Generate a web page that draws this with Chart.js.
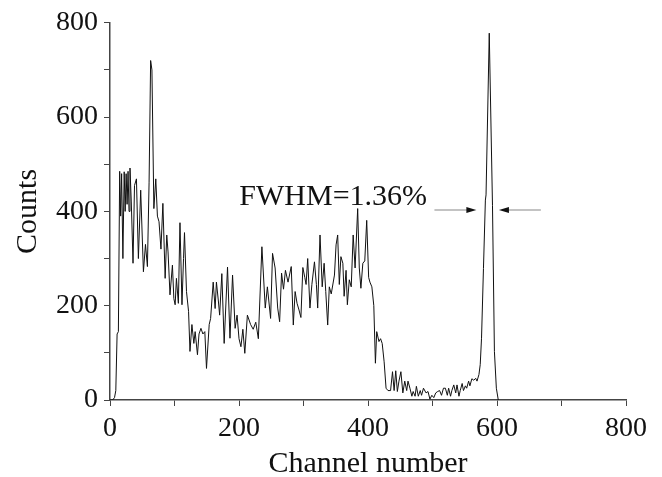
<!DOCTYPE html>
<html>
<head>
<meta charset="utf-8">
<script src="https://cdn.jsdelivr.net/npm/chart.js@4"></script>
<style>
  html, body { margin: 0; padding: 0; background: #fff; }
  #wrap { width: 662px; height: 477px; }
</style>
</head>
<body>
<div id="wrap"><canvas id="spectrum"></canvas></div>
<script>
// spectrum (channel, counts)
const channels = [0, 4, 7, 9, 11, 13, 15, 16.5, 18, 20, 22, 23.5, 25, 26.5, 28, 29.5, 31, 33, 35.7, 38,
  41, 44, 47.6, 51.8, 55, 58, 60.6, 63, 65, 68, 71, 73.5, 76, 79, 82, 85.5, 88, 90, 93, 96.8,
  99, 101, 103, 106, 108.5, 111.6, 114, 115.5, 118.6, 121.8, 124, 127, 130, 132, 135.6, 138, 141, 144, 147, 149.6,
  153.8, 156, 160, 163, 165, 168, 170, 173.4, 177, 182.2, 186, 190, 194, 197, 200, 203, 206, 209, 213, 218,
  222, 226, 230, 235.5, 240.7, 244, 249, 252, 256, 260, 263, 266, 269, 272, 276, 281, 284.2, 287, 290, 293,
  296, 299, 302, 304, 306.5, 310, 313, 317, 320, 322, 325.6, 329, 332, 334.5, 337.5, 340, 343, 348, 350.5, 353,
  355.5, 358, 361, 363, 366, 368, 371, 374, 377, 380, 384, 386.5, 389, 392, 395, 398, 401, 403, 406, 409,
  411.5, 413.5, 417, 419.5, 422, 425, 428, 431, 435, 438, 440.5, 443, 445.5, 448, 451, 454, 457, 460, 462, 465,
  468, 470, 473, 475, 478, 481, 483, 486, 490, 493, 496, 499, 502, 505, 508, 511, 514, 517, 520, 523,
  525, 528, 530, 533, 536, 538, 541, 543, 546, 548, 551, 553, 556, 558, 561, 564, 567, 569, 572, 574,
  576, 579, 582, 583, 588, 593, 596, 599, 602];
const counts = [0, 0, 5, 20, 140, 145, 485, 390, 480, 300, 484, 400, 480, 415, 485, 400, 492, 420, 290, 455,
  469, 300, 445, 272, 330, 283, 462, 720, 700, 406, 469, 390, 378, 320, 417, 258, 350, 314, 223, 286,
  215, 202, 258, 205, 376, 202, 300, 355, 230, 188, 103, 160, 120, 145, 96, 140, 152, 140, 145, 67,
  160, 173, 250, 194, 250, 210, 180, 268, 120, 282, 131, 265, 152, 180, 130, 113, 150, 99, 180, 160,
  150, 165, 130, 325, 195, 240, 173, 311, 280, 195, 166, 269, 235, 275, 250, 283, 159, 230, 205, 191,
  175, 281, 260, 245, 300, 195, 245, 293, 245, 195, 350, 240, 290, 230, 159, 240, 225, 265, 329, 350,
  245, 304, 290, 220, 275, 202, 255, 240, 350, 280, 406, 280, 237, 290, 295, 381, 260, 250, 240, 200,
  78, 145, 124, 130, 120, 81, 25, 20, 20, 60, 20, 62, 18, 40, 60, 15, 40, 20, 40, 25,
  8, 18, 8, 29, 8, 20, 10, 25, 15, 18, 2, 10, 5, 15, 18, 20, 10, 25, 25, 10,
  25, 8, 20, 32, 15, 32, 8, 20, 35, 20, 30, 25, 40, 30, 45, 42, 46, 40, 54, 75,
  131, 279, 424, 435, 778, 412, 103, 25, 0];

const xTicks = [0, 200, 400, 600, 800];
const yTicks = [0, 200, 400, 600, 800];
const fwhmLabel = 'FWHM=1.36%';
// arrow annotation, in data units: [from, to] channels and the counts level
const arrowLeft = [503, 568];
const arrowRight = [668, 603];
const arrowLevel = 403;
const labelAt = [346, 430];

const serif = '"Liberation Serif", "Times New Roman", serif';
const axisColor = '#444';

const annotate = {
  id: 'annotate',
  afterDatasetsDraw(chart) {
    const { ctx, scales: { x, y } } = chart;
    const yy = y.getPixelForValue(arrowLevel);
    ctx.save();
    for (const [a, b] of [arrowLeft, arrowRight]) {
      const xa = x.getPixelForValue(a), xb = x.getPixelForValue(b);
      const dir = Math.sign(xb - xa);
      ctx.strokeStyle = '#888';
      ctx.lineWidth = 1.2;
      ctx.beginPath();
      ctx.moveTo(xa, yy);
      ctx.lineTo(xb - dir * 8, yy);
      ctx.stroke();
      ctx.fillStyle = '#111';
      ctx.beginPath();
      ctx.moveTo(xb, yy);
      ctx.lineTo(xb - dir * 10, yy - 3);
      ctx.lineTo(xb - dir * 10, yy + 3);
      ctx.closePath();
      ctx.fill();
    }
    ctx.fillStyle = '#111';
    ctx.font = '30px ' + serif;
    ctx.textAlign = 'center';
    ctx.textBaseline = 'middle';
    ctx.fillText(fwhmLabel, x.getPixelForValue(labelAt[0]), y.getPixelForValue(labelAt[1]));
    ctx.restore();
  }
};

new Chart(document.getElementById('spectrum'), {
  type: 'line',
  data: {
    datasets: [{
      data: channels.map((c, i) => ({ x: c, y: counts[i] })),
      borderColor: '#111',
      borderWidth: 1,
      pointRadius: 0,
      tension: 0
    }]
  },
  options: {
    responsive: true,
    maintainAspectRatio: false,
    animation: false,
    layout: { padding: { left: 0, right: 36, top: 22, bottom: 0 } },
    plugins: { legend: { display: false }, tooltip: { enabled: false } },
    scales: {
      x: {
        type: 'linear',
        min: 0,
        max: 800,
        afterFit: s => { s.height = 77; },
        afterBuildTicks: s => {
          const t = [];
          for (let v = 0; v <= 800; v += 100) t.push({ value: v });
          s.ticks = t;
        },
        ticks: {
          autoSkip: false,
          maxRotation: 0,
          padding: 6,
          color: '#111',
          font: { family: serif, size: 28 },
          callback: v => xTicks.includes(v) ? String(v) : ''
        },
        grid: { drawOnChartArea: false, tickLength: 6, color: axisColor },
        border: { color: axisColor, width: 1.5 },
        title: {
          display: true,
          text: 'Channel number',
          color: '#111',
          font: { family: serif, size: 30 },
          padding: { top: 0, bottom: -5 }
        }
      },
      y: {
        min: 0,
        max: 800,
        afterFit: s => { s.width = 110; },
        afterBuildTicks: s => {
          const t = [];
          for (let v = 0; v <= 800; v += 100) t.push({ value: v });
          s.ticks = t;
        },
        ticks: {
          autoSkip: false,
          padding: 6,
          color: '#111',
          font: { family: serif, size: 28 },
          callback: v => yTicks.includes(v) ? String(v) : ''
        },
        grid: { drawOnChartArea: false, tickLength: 6, color: axisColor },
        border: { color: axisColor, width: 1.5 },
        title: {
          display: true,
          text: 'Counts',
          color: '#111',
          font: { family: serif, size: 30 },
          padding: { top: 10, bottom: 0 }
        }
      }
    }
  },
  plugins: [annotate]
});
</script>
</body>
</html>
